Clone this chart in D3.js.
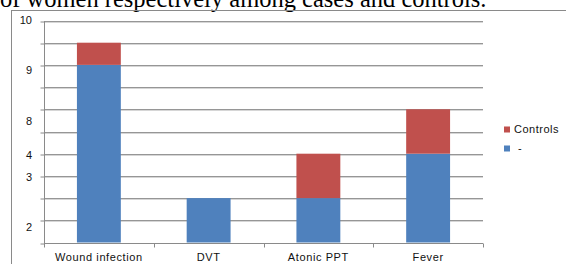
<!DOCTYPE html>
<html>
<head>
<meta charset="utf-8">
<script src="https://cdn.jsdelivr.net/npm/d3@7"></script>
<style>
  body { margin: 0; background: #fff; }
  svg { display: block; }
</style>
</head>
<body>
<div id="chart"></div>
<script>
// chart values
const categories = ["Wound infection", "DVT", "Atonic PPT", "Fever"];
const casesValues = [8, 2, 2, 4];      // blue series, legend label "-"
const controlsValues = [1, 0, 2, 2];   // red series
const seriesNames = ["Controls", "-"];
// the printed y labels do not sit on the gridlines in the original
const yTickLabels = ["10", "9", "8", "4", "3", "2"];
const yTickAt = [10, 7.75, 5.45, 3.95, 2.95, 0.7];
const captionText = "of women respectively among cases and controls.";

function renderChart() {
    const W = 566, H = 264;
    const margin = {top: 20.5, left: 44, right: 83, bottom: 21.5};

    const svg = d3.select("#chart")
        .append("svg")
        .attr("width", W)
        .attr("height", H);

    svg.append("rect").attr("width", W).attr("height", H).attr("fill", "#fff");

    // bottom of the document line above the chart (cut off in the original too)
    svg.append("text")
        .attr("x", 0)
        .attr("y", 6.5)
        .style("font-family", "'Liberation Serif', 'Times New Roman', serif")
        .style("font-size", "24.5px")
        .attr("fill", "#000")
        .text(captionText);

    // chart frame
    svg.append("rect")
        .attr("x", 11.5)
        .attr("y", 10.5)
        .attr("width", W)
        .attr("height", H)
        .attr("fill", "none")
        .attr("stroke", "#8a8a8a");

    const x = d3.scaleBand()
        .domain(categories)
        .range([margin.left, W - margin.right])
        .paddingInner(0.6)
        .paddingOuter(0.3);

    const y = d3.scaleLinear()
        .domain([0, 10])
        .range([H - margin.bottom, margin.top]);

    // gridlines (dark line with a light shadow under it)
    const grid = svg.append("g");
    y.ticks(10).filter(d => d > 0).forEach(t => {
        grid.append("line")
            .attr("x1", margin.left).attr("x2", W - margin.right)
            .attr("y1", Math.round(y(t)) + 1.5).attr("y2", Math.round(y(t)) + 1.5)
            .attr("stroke", "#d6d6d6");
        grid.append("line")
            .attr("x1", margin.left).attr("x2", W - margin.right)
            .attr("y1", Math.round(y(t)) + 0.5).attr("y2", Math.round(y(t)) + 0.5)
            .attr("stroke", "#969696");
    });

    // stacked bars
    const stackData = categories.map((c, i) => ({cat: c, cases: casesValues[i], controls: controlsValues[i]}));
    const stacked = d3.stack().keys(["cases", "controls"])(stackData);
    const colors = {cases: "#4f81bd", controls: "#c0504d"};

    stacked.forEach(layer => {
        svg.append("g")
            .attr("fill", colors[layer.key])
            .selectAll("rect")
            .data(layer.filter(d => d[1] > d[0]))
            .join("rect")
            .attr("x", d => x(d.data.cat))
            .attr("width", x.bandwidth())
            .attr("y", d => y(d[1]))
            .attr("height", d => y(d[0]) - y(d[1]));
    });

    // y axis
    const yAxis = svg.append("g")
        .attr("transform", `translate(${margin.left + 0.5},0.5)`)
        .call(d3.axisLeft(y).ticks(10).tickSize(4).tickFormat(""));
    yAxis.select(".domain").attr("stroke", "#8a8a8a").attr("d", `M0,${y(10)}V${y(0) + 4}`);
    yAxis.selectAll(".tick line").attr("stroke", "#8a8a8a")
        .attr("transform", d => `translate(0,${Math.round(y(d)) - y(d)})`);

    svg.append("g")
        .selectAll("text")
        .data(yTickLabels)
        .join("text")
        .attr("x", 32)
        .attr("y", (d, i) => y(yTickAt[i]))
        .attr("dy", "0.35em")
        .attr("text-anchor", "end")
        .style("font-family", "'Liberation Sans', Arial, sans-serif")
        .style("font-size", "11px")
        .attr("fill", "#111")
        .text(d => d);

    // x axis
    const xAxisY = Math.round(y(0)) + 0.5;
    const xg = svg.append("g");
    xg.append("line")
        .attr("x1", margin.left).attr("x2", W - margin.right)
        .attr("y1", xAxisY).attr("y2", xAxisY)
        .attr("stroke", "#8a8a8a");
    const edges = categories.map((c, i) => margin.left + i * x.step());
    edges.push(W - margin.right);
    xg.selectAll(".xt")
        .data(edges)
        .join("line")
        .attr("x1", d => Math.round(d) + 0.5).attr("x2", d => Math.round(d) + 0.5)
        .attr("y1", xAxisY).attr("y2", xAxisY + 4)
        .attr("stroke", "#8a8a8a");

    xg.selectAll(".xl")
        .data(categories)
        .join("text")
        .attr("x", d => x(d) + x.bandwidth() / 2)
        .attr("y", 261)
        .attr("text-anchor", "middle")
        .style("font-family", "'Liberation Sans', Arial, sans-serif")
        .style("font-size", "11px")
        .style("letter-spacing", "0.6px")
        .attr("fill", "#111")
        .text(d => d);

    // legend
    const legend = svg.append("g").attr("transform", "translate(504,126.5)");
    const legendColors = [colors.controls, colors.cases];
    seriesNames.forEach((name, i) => {
        const g = legend.append("g").attr("transform", `translate(0,${i * 19})`);
        g.append("rect")
            .attr("width", 6).attr("height", 6)
            .attr("fill", legendColors[i]);
        g.append("text")
            .attr("x", 10 + (name === "-" ? 4 : 0))
            .attr("y", 3)
            .attr("dy", "0.35em")
            .style("font-family", "'Liberation Sans', Arial, sans-serif")
            .style("font-size", "11px")
            .style("letter-spacing", "0.5px")
            .attr("fill", "#111")
            .text(name);
    });
}

renderChart();
</script>
</body>
</html>
